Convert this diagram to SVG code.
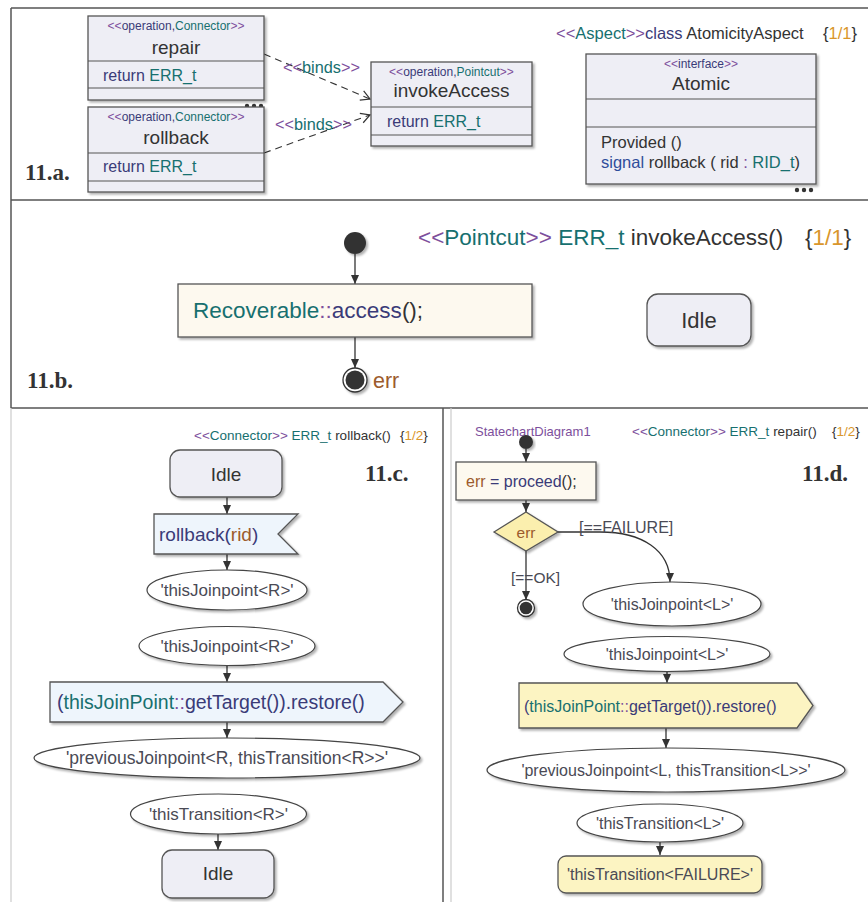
<svg xmlns="http://www.w3.org/2000/svg" width="868" height="902" viewBox="0 0 868 902">
<defs>
  <filter id="sh" x="-10%" y="-10%" width="130%" height="140%">
    <feDropShadow dx="2" dy="2" stdDeviation="1" flood-color="#000" flood-opacity="0.3"/>
  </filter>
  <marker id="ah" markerWidth="10" markerHeight="10" refX="9" refY="5" orient="auto" markerUnits="userSpaceOnUse">
    <path d="M0,1 L9,5 L0,9 Z" fill="#333"/>
  </marker>
  <marker id="oa" markerWidth="12" markerHeight="12" refX="10" refY="6" orient="auto" markerUnits="userSpaceOnUse">
    <path d="M1,1 L10,6 L1,11" fill="none" stroke="#333" stroke-width="1.2"/>
  </marker>
  <style>
    text { font-family: "Liberation Sans", Arial, sans-serif; fill: #333; }
    .pu { fill: #7d4f9c; }
    .te { fill: #17706f; }
    .nv { fill: #3a3b78; }
    .or { fill: #d9962b; }
    .br { fill: #9c5b2c; }
    .bl { fill: #2f4d9b; }
    .gy { fill: #4a4a55; }
    .box { fill: #eeeef5; stroke: #555; stroke-width: 1.3; filter: url(#sh); }
    .cream { fill: #fdf9ef; stroke: #555; stroke-width: 1.3; filter: url(#sh); }
    .yel { fill: #fcf4c2; stroke: #555; stroke-width: 1.3; filter: url(#sh); }
    .sky { fill: #eef5fc; stroke: #555; stroke-width: 1.3; filter: url(#sh); }
    .ell { fill: #fff; stroke: #444; stroke-width: 1.2; filter: url(#sh); }
    .div { stroke: #555; stroke-width: 1.2; }
    .fl { stroke: #333; stroke-width: 1.3; fill: none; marker-end: url(#ah); }
    .dash { stroke: #333; stroke-width: 1.1; fill: none; stroke-dasharray: 7 5; marker-end: url(#oa); }
    .lbl { font-family: "Liberation Serif", "Times New Roman", serif; font-weight: bold; font-size: 23px; fill: #333; }
    .frame { stroke: #555; stroke-width: 1.5; }
    .frame2 { stroke: #ccc; stroke-width: 1.2; }
    .dot { fill: #333; }
  </style>
</defs>

<!-- panel frames -->
<g id="frames">
  <line class="frame" x1="11" y1="8" x2="868" y2="8"/>
  <line class="frame" x1="11" y1="8" x2="11" y2="408"/>
  <line class="frame" x1="11" y1="200" x2="868" y2="200"/>
  <line class="frame" x1="11" y1="408" x2="868" y2="408"/>
  <line class="frame2" x1="11" y1="408" x2="11" y2="902"/>
  <line class="frame" x1="443" y1="408" x2="443" y2="902"/>
  <line class="frame2" x1="451" y1="408" x2="451" y2="902"/>
</g>

<!-- panel captions -->
<text class="lbl" x="25" y="180">11.a.</text>
<text class="lbl" x="27" y="388">11.b.</text>
<text class="lbl" x="365" y="481">11.c.</text>
<text class="lbl" x="802" y="481">11.d.</text>

<!-- connectors -->
<g id="connectors">
  <path class="dash" d="M264,54 L370,99"/>
  <path class="dash" d="M264,153 L370,115"/>
  <text x="283" y="73" font-size="16.3"><tspan class="pu">&lt;&lt;</tspan><tspan class="te">binds</tspan><tspan class="pu">&gt;&gt;</tspan></text>
  <text x="275" y="130" font-size="16.3"><tspan class="pu">&lt;&lt;</tspan><tspan class="te">binds</tspan><tspan class="pu">&gt;&gt;</tspan></text>

  <path class="fl" d="M355,254 L355,284"/>
  <path class="fl" d="M355,337 L355,368"/>

  <path class="fl" d="M227,497 L227,514"/>
  <path class="fl" d="M227,554 L227,570"/>
  <path class="fl" d="M227,665 L227,682"/>
  <path class="fl" d="M227,722 L227,738"/>
  <path class="fl" d="M218,834 L218,850"/>

  <path class="fl" d="M526,449 L526,462"/>
  <path class="fl" d="M526,500 L526,512"/>
  <path class="fl" d="M526,551 L526,600"/>
  <path class="fl" d="M558,532 L600,532 C642,532 670,550 670,582"/>
  <path class="fl" d="M667,672 L667,683"/>
  <path class="fl" d="M666,728 L666,748"/>
  <path class="fl" d="M660,842 L660,855"/>
  <text x="579" y="532.5" font-size="16" class="gy">[==FAILURE]</text>
  <text x="511" y="582.5" font-size="15.5" class="gy">[==OK]</text>
</g>

<!-- 11.a -->
<g id="repair">
  <rect class="box" x="88" y="16" width="176" height="84"/>
  <line class="div" x1="88" y1="61" x2="264" y2="61"/>
  <line class="div" x1="88" y1="88" x2="264" y2="88"/>
  <text x="176" y="30" font-size="12" text-anchor="middle"><tspan class="pu">&lt;&lt;</tspan><tspan class="nv">operation,</tspan><tspan class="te">Connector</tspan><tspan class="pu">&gt;&gt;</tspan></text>
  <text x="176" y="53.5" font-size="19" text-anchor="middle">repair</text>
  <text x="103" y="81" font-size="16"><tspan class="nv">return </tspan><tspan class="te">ERR_t</tspan></text>
</g>
<g id="repair-more">
  <circle class="dot" cx="247" cy="106" r="2.2"/>
  <circle class="dot" cx="254" cy="106" r="2.2"/>
  <circle class="dot" cx="261" cy="106" r="2.2"/>
</g>
<g id="rollback">
  <rect class="box" x="88" y="107" width="176" height="85"/>
  <line class="div" x1="88" y1="153" x2="264" y2="153"/>
  <line class="div" x1="88" y1="181" x2="264" y2="181"/>
  <text x="176" y="121" font-size="12" text-anchor="middle"><tspan class="pu">&lt;&lt;</tspan><tspan class="nv">operation,</tspan><tspan class="te">Connector</tspan><tspan class="pu">&gt;&gt;</tspan></text>
  <text x="176" y="144" font-size="19" text-anchor="middle">rollback</text>
  <text x="103" y="172" font-size="16"><tspan class="nv">return </tspan><tspan class="te">ERR_t</tspan></text>
</g>
<g id="invokeAccess">
  <rect class="box" x="371" y="62" width="161" height="84"/>
  <line class="div" x1="371" y1="107" x2="532" y2="107"/>
  <line class="div" x1="371" y1="135" x2="532" y2="135"/>
  <text x="451.5" y="76" font-size="12" text-anchor="middle"><tspan class="pu">&lt;&lt;</tspan><tspan class="nv">operation,</tspan><tspan class="te">Pointcut</tspan><tspan class="pu">&gt;&gt;</tspan></text>
  <text x="451.5" y="97" font-size="19" text-anchor="middle">invokeAccess</text>
  <text x="387" y="127" font-size="16"><tspan class="nv">return </tspan><tspan class="te">ERR_t</tspan></text>
</g>
<g id="aspect-title">
  <text x="556" y="39" font-size="16.5"><tspan class="pu">&lt;&lt;</tspan><tspan class="te">Aspect</tspan><tspan class="pu">&gt;&gt;</tspan><tspan class="nv">class </tspan><tspan>AtomicityAspect</tspan></text>
  <text x="823" y="39" font-size="16.5">{<tspan class="or">1/1</tspan>}</text>
</g>
<g id="Atomic">
  <rect class="box" x="586" y="54" width="230" height="130"/>
  <line class="div" x1="586" y1="99" x2="816" y2="99"/>
  <line class="div" x1="586" y1="127" x2="816" y2="127"/>
  <text x="701" y="68" font-size="12" text-anchor="middle"><tspan class="pu">&lt;&lt;</tspan><tspan class="nv">interface</tspan><tspan class="pu">&gt;&gt;</tspan></text>
  <text x="701" y="90" font-size="19" text-anchor="middle">Atomic</text>
  <text x="601" y="148" font-size="16.5">Provided ()</text>
  <text x="601" y="168" font-size="16.5"><tspan class="bl">signal </tspan><tspan>rollback ( rid </tspan><tspan class="pu">: </tspan><tspan class="te">RID_t</tspan><tspan>)</tspan></text>
</g>
<g id="Atomic-more">
  <circle class="dot" cx="797" cy="190" r="2.2"/>
  <circle class="dot" cx="804" cy="190" r="2.2"/>
  <circle class="dot" cx="811" cy="190" r="2.2"/>
</g>

<!-- 11.b -->
<g id="pointcut-title">
  <text x="418" y="245" font-size="22.5"><tspan class="pu">&lt;&lt;</tspan><tspan class="te">Pointcut</tspan><tspan class="pu">&gt;&gt; </tspan><tspan class="te">ERR_t </tspan><tspan>invokeAccess()</tspan></text>
  <text x="805" y="245" font-size="22.5">{<tspan class="or">1/1</tspan>}</text>
</g>
<g id="b-initial">
  <circle cx="355" cy="243" r="11" fill="#333" filter="url(#sh)"/>
</g>
<g id="b-access">
  <rect class="cream" x="178" y="284" width="354" height="53"/>
  <text x="193" y="318" font-size="22.5"><tspan class="te">Recoverable</tspan><tspan class="pu">::</tspan><tspan class="nv">access</tspan><tspan>();</tspan></text>
</g>
<g id="b-final">
  <circle cx="355" cy="380" r="12" fill="#fff" stroke="#333" stroke-width="1.3" filter="url(#sh)"/>
  <circle cx="355" cy="380" r="9.5" fill="#333"/>
  <text x="373" y="388" font-size="21.5" class="br">err</text>
</g>
<g id="b-Idle">
  <rect class="box" x="647" y="294" width="104" height="52" rx="11"/>
  <text x="699" y="328" font-size="22" text-anchor="middle">Idle</text>
</g>

<!-- 11.c -->
<g id="c-title">
  <text x="194" y="440" font-size="13.5"><tspan class="pu">&lt;&lt;</tspan><tspan class="te">Connector</tspan><tspan class="pu">&gt;&gt; </tspan><tspan class="te">ERR_t </tspan><tspan>rollback()</tspan></text>
  <text x="400" y="440" font-size="13.5">{<tspan class="or">1/2</tspan>}</text>
</g>
<g id="c-Idle1">
  <rect class="box" x="170" y="450" width="112" height="47" rx="10"/>
  <text x="226" y="481" font-size="19" text-anchor="middle">Idle</text>
</g>
<g id="c-rollback-signal">
  <polygon class="sky" points="154,514 298,514 278,534 298,554 154,554"/>
  <text x="159" y="541" font-size="19"><tspan class="nv">rollback(</tspan><tspan class="br">rid</tspan><tspan class="nv">)</tspan></text>
</g>
<g id="c-jp1">
  <ellipse class="ell" cx="227" cy="590" rx="80" ry="20"/>
  <text x="227" y="596" font-size="17" text-anchor="middle" class="gy">'thisJoinpoint&lt;R&gt;'</text>
</g>
<g id="c-jp2">
  <ellipse class="ell" cx="227" cy="646" rx="88" ry="19.5"/>
  <text x="227" y="652" font-size="17" text-anchor="middle" class="gy">'thisJoinpoint&lt;R&gt;'</text>
</g>
<g id="c-restore">
  <polygon class="sky" points="50,682 383,682 403,702 383,722 50,722"/>
  <text x="57" y="709" font-size="19.5"><tspan class="nv">(</tspan><tspan class="te">thisJoinPoint</tspan><tspan class="pu">::</tspan><tspan class="nv">getTarget()).restore()</tspan></text>
</g>
<g id="c-prev">
  <ellipse class="ell" cx="227" cy="758" rx="193" ry="20"/>
  <text x="227" y="764" font-size="17.5" text-anchor="middle" class="gy">'previousJoinpoint&lt;R, thisTransition&lt;R&gt;&gt;'</text>
</g>
<g id="c-trans">
  <ellipse class="ell" cx="218.5" cy="814" rx="88" ry="20"/>
  <text x="218.5" y="820" font-size="17" text-anchor="middle" class="gy">'thisTransition&lt;R&gt;'</text>
</g>
<g id="c-Idle2">
  <rect class="box" x="162" y="850" width="112" height="48" rx="10"/>
  <text x="218" y="880" font-size="19" text-anchor="middle">Idle</text>
</g>

<!-- 11.d -->
<g id="d-title">
  <text x="475" y="436" font-size="13" class="pu">StatechartDiagram1</text>
  <text x="632" y="436" font-size="13.5"><tspan class="pu">&lt;&lt;</tspan><tspan class="te">Connector</tspan><tspan class="pu">&gt;&gt; </tspan><tspan class="te">ERR_t </tspan><tspan>repair()</tspan></text>
  <text x="832" y="436" font-size="13.5">{<tspan class="or">1/2</tspan>}</text>
</g>
<g id="d-initial">
  <circle cx="526" cy="442" r="7" fill="#333" filter="url(#sh)"/>
</g>
<g id="d-proceed">
  <rect class="cream" x="456" y="462" width="140" height="38"/>
  <text x="466" y="487" font-size="16"><tspan class="br">err </tspan><tspan class="nv">= proceed</tspan><tspan>();</tspan></text>
</g>
<g id="d-decision">
  <polygon points="494,532 526,512 558,532 526,551" fill="#fbefae" stroke="#555" stroke-width="1.3" filter="url(#sh)"/>
  <text x="526" y="537.5" font-size="15.5" text-anchor="middle" class="br">err</text>
</g>
<g id="d-final">
  <circle cx="526" cy="608" r="8.5" fill="#fff" stroke="#333" stroke-width="1.3" filter="url(#sh)"/>
  <circle cx="526" cy="608" r="6.3" fill="#333"/>
</g>
<g id="d-jp1">
  <ellipse class="ell" cx="672" cy="604" rx="89" ry="22"/>
  <text x="672" y="609.5" font-size="16" text-anchor="middle" class="gy">'thisJoinpoint&lt;L&gt;'</text>
</g>
<g id="d-jp2">
  <ellipse class="ell" cx="667" cy="654" rx="103" ry="17.5"/>
  <text x="667" y="659.5" font-size="16" text-anchor="middle" class="gy">'thisJoinpoint&lt;L&gt;'</text>
</g>
<g id="d-restore">
  <polygon class="yel" points="519,683 797,683 813,705.5 797,728 519,728"/>
  <text x="524" y="711.5" font-size="16"><tspan class="nv">(</tspan><tspan class="te">thisJoinPoint</tspan><tspan class="pu">::</tspan><tspan class="nv">getTarget()).restore()</tspan></text>
</g>
<g id="d-prev">
  <ellipse class="ell" cx="666" cy="770" rx="179" ry="22"/>
  <text x="666" y="775.5" font-size="16" text-anchor="middle" class="gy">'previousJoinpoint&lt;L, thisTransition&lt;L&gt;&gt;'</text>
</g>
<g id="d-trans">
  <ellipse class="ell" cx="660" cy="823" rx="83" ry="19"/>
  <text x="660" y="828.5" font-size="16" text-anchor="middle" class="gy">'thisTransition&lt;L&gt;'</text>
</g>
<g id="d-failure">
  <rect class="yel" x="558" y="856" width="204" height="37" rx="8"/>
  <text x="660" y="880" font-size="16" text-anchor="middle" class="gy">'thisTransition&lt;FAILURE&gt;'</text>
</g>
</svg>
